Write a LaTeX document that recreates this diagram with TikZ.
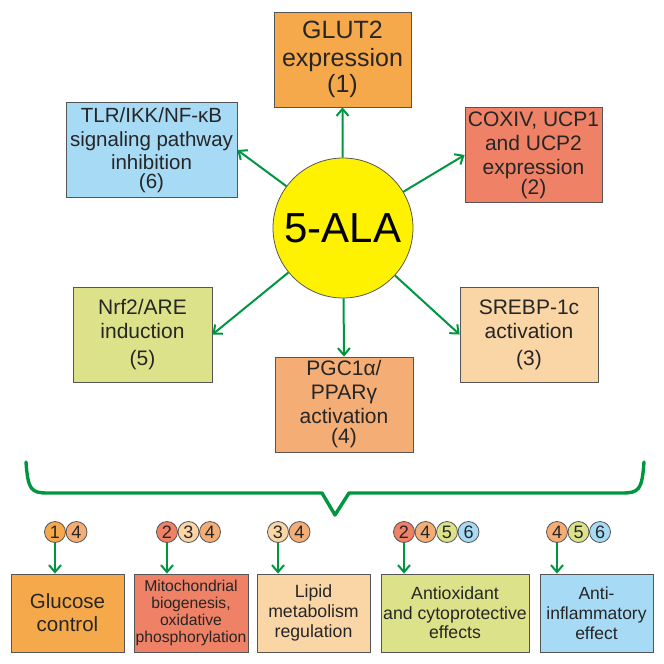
\documentclass[tikz,border=0pt]{standalone}
\usepackage{fontspec}
\setmainfont{Liberation Sans}
\usetikzlibrary{arrows.meta}
\definecolor{arrgreen}{RGB}{0,150,64}
\definecolor{boxline}{RGB}{85,85,85}
\definecolor{txt}{RGB}{38,38,38}
\definecolor{c1}{RGB}{246,169,75}
\definecolor{c2}{RGB}{238,129,102}
\definecolor{c3}{RGB}{250,213,166}
\definecolor{c4}{RGB}{244,173,116}
\definecolor{c5}{RGB}{220,226,138}
\definecolor{c6}{RGB}{167,218,245}
\newcommand{\fs}[2]{\fontsize{#1}{#2}\selectfont}
\begin{document}
\begin{tikzpicture}[x=1pt, y=-1pt,
    box/.style={draw=boxline, line width=0.8pt, text=txt, align=center, inner sep=0pt},
    top/.style={box, minimum height=95pt, font=\fs{21}{24}},
    bot/.style={box, minimum height=78pt},
    num/.style={circle, draw=boxline, line width=0.8pt, minimum size=21pt, inner sep=0pt, text=txt, font=\fs{18}{18}},
    arr/.style={arrgreen, line width=2pt, -{Straight Barb[length=7pt,width=12pt]}}
  ]
  \useasboundingbox (0,0) rectangle (664,664);
  % centre
  \node[circle, draw=boxline, line width=0.8pt, fill=yellow, minimum size=140pt, inner sep=0pt, font=\fs{42}{42}] (ala) at (343,228) {5-ALA};
  % targets
  \node[top, fill=c1, minimum width=137pt, font=\fs{25}{28}] (glut) at (342.5,59.5) {GLUT2\\expression\\[-2pt](1)};
  \node[top, fill=c2, minimum width=137pt] (coxiv) at (533.5,155) {COXIV, UCP1\\and UCP2\\expression\\[-4pt](2)};
  \node[top, fill=c6, minimum width=171pt, font=\fs{20.5}{23.5}] (tlr) at (151.5,150) {TLR/IKK/NF-κB\\signaling pathway\\inhibition\\[-5pt](6)};
  \node[top, fill=c5, minimum width=139pt] (nrf) at (142.5,334.5) {Nrf2/ARE\\induction\\[3pt](5)};
  \node[top, fill=c3, minimum width=138pt] (srebp) at (529,334.5) {SREBP-1c\\activation\\[3pt](3)};
  \node[top, fill=c4, minimum width=138pt] (pgc) at (344,404.5) {PGC1α/\\PPARγ\\activation\\[-4pt](4)};
  \draw[arr] (ala) -- (glut.south);
  \draw[arr] (ala) -- (coxiv.west);
  \draw[arr] (ala) -- (tlr.east);
  \draw[arr] (ala) -- (nrf.east);
  \draw[arr] (ala) -- (srebp.west);
  \draw[arr] (ala) -- (pgc.north);
  % brace
  \draw[arrgreen, line width=3.4pt, line join=round, line cap=round]
    (26,462) .. controls (28,490) and (31,493) .. (48,493) -- (322,493) -- (335,515) -- (349,493)
    -- (622,493) .. controls (639,493) and (642,490) .. (644,462);
  % effects
  \node[bot, fill=c1, minimum width=113pt, font=\fs{20.5}{23}] (glb) at (67.5,613) {Glucose\\control};
  \node[bot, fill=c2, minimum width=114pt, font=\fs{15.7}{17}] (mib) at (191,613) {Mitochondrial\\biogenesis,\\oxidative\\phosphorylation};
  \node[bot, fill=c3, minimum width=113pt, font=\fs{17.7}{20}] (lib) at (313.5,613) {Lipid\\metabolism\\regulation};
  \node[bot, fill=c5, minimum width=148pt, font=\fs{17.7}{19.5}] (aob) at (455,613) {Antioxidant\\and cytoprotective\\effects};
  \node[bot, fill=c6, minimum width=113pt, font=\fs{17.5}{20}] (aib) at (596.5,613) {Anti-\\inflammatory\\effect};
  \foreach \nm/\x/\list in {gl/55/{1,4}, mi/167/{2,3,4}, li/278/{3,4}, ao/404/{2,4,5,6}, ai/557/{4,5,6}} {
    \foreach \n [count=\k] in \list {
      \node[num, fill=c\n] (\nm\k) at (\x+21.5*\k-21.5,532) {\n};
    }
    \draw[arr] (\nm1) -- (\nm1 |- \nm b.north);
  }
\end{tikzpicture}
\end{document}
